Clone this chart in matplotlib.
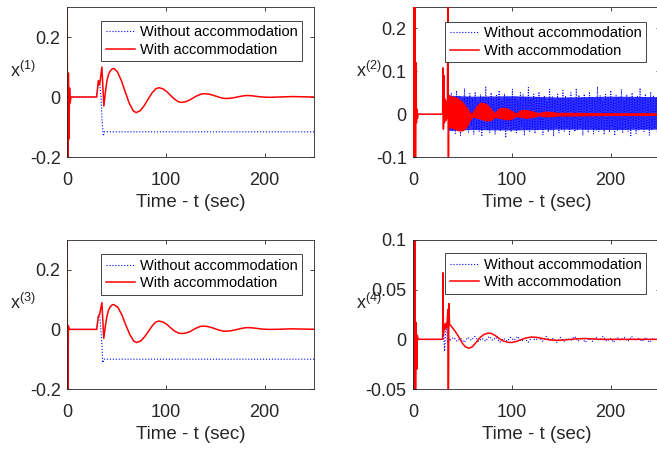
import numpy as np
import matplotlib
matplotlib.use('Agg')
import matplotlib.pyplot as plt
from matplotlib.lines import Line2D

plt.rcParams['font.family'] = ['Liberation Sans', 'DejaVu Sans']
plt.rcParams['mathtext.fontset'] = 'custom'
plt.rcParams['mathtext.rm'] = 'Liberation Sans'
plt.rcParams['mathtext.default'] = 'regular'
plt.rcParams['axes.unicode_minus'] = False

# ---------------- data ----------------
# x(1): with accommodation (red)
t1_red = [0, 0.7, 1.4, 2.0, 2.6, 3.2, 4.0, 30, 31.8, 33, 35.3, 37.3, 39, 40.5, 42, 44, 46, 47.5,
          51, 55, 59, 63, 67, 70, 74, 78, 82, 86, 90, 93, 97, 101, 105, 109, 113, 116,
          120, 124, 128, 132, 136, 139, 143, 147, 151, 155, 158, 161, 165, 169, 173, 177,
          180, 183, 188, 193, 198, 203, 206, 215, 229, 240, 250]
x1_red = [0.45, -0.35, 0.08, -0.14, 0.03, -0.02, 0.0, 0.0, 0.055, 0.04, 0.10, -0.03, 0.02, 0.055, 0.075, 0.088, 0.094, 0.095,
          0.084, 0.055, 0.0165, -0.021, -0.046, -0.052, -0.046, -0.0295, -0.0077, 0.0134, 0.0276, 0.031, 0.0275, 0.0178, 0.0048, -0.0076, -0.016, -0.018,
          -0.0159, -0.0102, -0.0025, 0.0049, 0.0098, 0.011, 0.0098, 0.0067, 0.0025, -0.0017, -0.0043, -0.005, -0.0043, -0.0023, 0.0005, 0.003,
          0.0045, 0.005, 0.0038, 0.0015, 0.0, -0.0008, -0.001, 0.0, 0.0015, 0.0005, 0.0]
# x(1): without accommodation (blue)
t1_blue = [0, 30, 31.8, 33, 34.5, 35.5, 36.8, 37.8, 250]
x1_blue = [0.0, 0.0, 0.055, 0.045, 0.0, -0.08, -0.13, -0.116, -0.116]

# x(3)
t3_red = [0, 0.7, 1.4, 2.2, 30, 31.8, 33, 35.3, 37.2, 39, 40.5, 42, 44, 46, 47.5,
          51.5, 55.5, 59.5, 63.5, 67.5, 70.5, 74.5, 78.5, 82.5, 86.5, 90, 93, 97, 101, 105, 109, 113, 116.5,
          120.5, 124.5, 128.5, 132.5, 135.5, 138, 142, 146, 150, 154, 158, 161, 165, 169, 173, 177, 180, 183,
          188, 193, 198, 205, 215, 228, 240, 250]
x3_red = [0.4, -0.35, 0.012, 0.0, 0.0, 0.045, 0.05, 0.09, -0.03, 0.015, 0.045, 0.065, 0.077, 0.083, 0.083,
          0.074, 0.049, 0.015, -0.017, -0.039, -0.044, -0.039, -0.025, -0.006, 0.013, 0.025, 0.028, 0.025, 0.017, 0.005, -0.006, -0.0125, -0.014,
          -0.012, -0.0075, 0.0005, 0.007, 0.0105, 0.011, 0.0098, 0.0065, 0.002, -0.0025, -0.0055, -0.006, -0.005, -0.0025, 0.0005, 0.0035, 0.0053, 0.006,
          0.005, 0.003, 0.001, 0.0, 0.0005, 0.002, 0.001, 0.0005]
t3_blue = [0, 30, 31.8, 33, 35, 36.2, 37.5, 250]
x3_blue = [0.0, 0.0, 0.045, 0.05, -0.03, -0.112, -0.1, -0.1]

# x(2): red transient, then fast oscillation band (envelope)
t2_red = [0, 0.5, 1.0, 1.5, 2.0, 2.5, 3.0, 3.5, 4.0, 4.5, 5.0, 30, 30.3, 30.8, 31.3, 31.8, 32.5, 33.2, 34, 34.8, 35.5, 35.8, 36.2]
x2_red = [0.4, -0.3, 0.35, -0.25, 0.3, -0.2, 0.12, -0.02, 0.012, -0.01, 0.0, 0.0, 0.108, -0.035, 0.09, -0.02, 0.035, -0.015, 0.03, -0.01, 0.4, -0.4, 0.04]
t2_band = [36, 38, 42, 46, 50, 54, 58, 60, 64, 68, 72, 76, 80, 83, 86, 90, 94, 98, 102, 104,
           108, 112, 116, 120, 124, 127, 131, 135, 139, 143, 147, 150, 160, 175, 200, 225, 250]
x2_upper = [0.045, 0.042, 0.040, 0.036, 0.028, 0.016, 0.002, 0.002, 0.018, 0.027, 0.026, 0.020, 0.008, 0.002, 0.012, 0.015, 0.014, 0.010, 0.004, 0.001,
            0.008, 0.010, 0.009, 0.007, 0.004, 0.002, 0.005, 0.006, 0.005, 0.004, 0.003, 0.003, 0.003, 0.0025, 0.002, 0.002, 0.002]
x2_lower = [-0.03, -0.030, -0.034, -0.038, -0.038, -0.030, -0.012, -0.006, -0.008, -0.010, -0.014, -0.015, -0.012, -0.006, -0.008, -0.010, -0.012, -0.012, -0.008, -0.004,
            -0.006, -0.008, -0.008, -0.007, -0.005, -0.003, -0.004, -0.005, -0.005, -0.004, -0.003, -0.003, -0.003, -0.0025, -0.002, -0.002, -0.002]
# x(2): blue noisy response after the fault (dense core + spiky fringe)
t2_blue_pre = [0, 30, 36]
x2_blue_pre = [0.0, 0.0, 0.0]
t2_core = [36, 60, 100, 150, 200, 250]
x2_core_hi = [0.044, 0.042, 0.043, 0.040, 0.042, 0.041]
x2_core_lo = [-0.038, -0.036, -0.037, -0.035, -0.036, -0.035]
x2_noise = [
    0.045, -0.035, 0.05, -0.04, 0.038, -0.045, 0.055, -0.03, 0.042, -0.05,
    0.035, -0.038, 0.06, -0.033, 0.04, -0.042, 0.048, -0.028, 0.036, -0.047,
    0.052, -0.036, 0.03, -0.04, 0.046, -0.052, 0.04, -0.03, 0.065, -0.038,
    0.038, -0.044, 0.05, -0.032, 0.034, -0.048, 0.044, -0.036, 0.055, -0.04,
    0.03, -0.034, 0.048, -0.055, 0.042, -0.03, 0.036, -0.042, 0.058, -0.035,
    0.04, -0.046, 0.033, -0.038, 0.05, -0.03, 0.045, -0.05, 0.038, -0.036,
    0.062, -0.04, 0.035, -0.033, 0.047, -0.045, 0.04, -0.038, 0.052, -0.03,
    0.036, -0.048, 0.044, -0.035, 0.03, -0.042, 0.058, -0.037, 0.041, -0.052,
    0.034, -0.03, 0.049, -0.044, 0.038, -0.036, 0.055, -0.04, 0.043, -0.033,
    0.037, -0.047, 0.05, -0.035, 0.032, -0.041, 0.06, -0.038, 0.045, -0.03,
    0.039, -0.05, 0.047, -0.036, 0.034, -0.043, 0.052, -0.032, 0.041, -0.046,
    0.036, -0.037, 0.064, -0.04, 0.043, -0.034, 0.03, -0.048, 0.049, -0.036,
    0.038, -0.042, 0.055, -0.03, 0.035, -0.05, 0.044, -0.038, 0.04, -0.035,
    0.058, -0.044, 0.033, -0.036, 0.046, -0.04, 0.039, -0.053, 0.05, -0.032,
    0.036, -0.045, 0.043, -0.037, 0.061, -0.034, 0.04, -0.041, 0.047, -0.036,
    0.034, -0.049, 0.052, -0.038, 0.042, -0.033, 0.037, -0.044, 0.05, -0.035,
]

# x(4)
t4_red = [0, 0.5, 1.0, 1.5, 2.0, 2.5, 3.2, 3.8, 4.4, 5.0, 30, 30.3, 30.8, 31.5, 32.2, 33, 33.8, 34.6, 35.3, 35.8, 36.3, 37,
          39, 42, 46, 50, 53, 56.5, 60, 64, 68, 72, 76, 79, 83, 87, 91, 96, 100, 105, 110, 115, 120, 125,
          130, 138, 146, 155, 165, 175, 190, 210, 230, 250]
x4_red = [0.3, -0.2, 0.25, -0.15, 0.12, -0.08, 0.017, -0.03, 0.004, 0.0, 0.0, 0.067, 0.005, 0.015, 0.01, 0.016, 0.012, 0.018, 0.03, -0.08, 0.036, 0.015,
          0.013, 0.009, 0.003, -0.004, -0.0075, -0.009, -0.0075, -0.003, 0.002, 0.005, 0.0062, 0.006, 0.004, 0.001, -0.0015, -0.003, -0.0032, -0.002, 0.0, 0.0015, 0.0023, 0.002,
          0.001, -0.0005, -0.001, -0.0005, 0.0005, 0.0008, 0.0, 0.0, 0.0, 0.0]
t4_blue_pre = [0, 30, 31, 32, 33, 34, 35, 36, 37.5]
x4_blue_pre = [0.0, 0.0, 0.005, -0.012, 0.008, 0.013, -0.004, 0.003, -0.001]
x4_noise = [
    -0.001, 0.002, -0.002, 0.001, -0.003, 0.002, -0.001, 0.003, -0.002, 0.001,
    -0.002, 0.003, -0.001, 0.002, -0.003, 0.001, -0.002, 0.002, -0.001, 0.003,
    -0.002, 0.001, -0.003, 0.002, -0.001, 0.002, -0.002, 0.003, -0.001, 0.001,
    -0.003, 0.002, -0.002, 0.001, -0.001, 0.003, -0.002, 0.002, -0.003, 0.001,
    -0.002, 0.002, -0.001, 0.003, -0.002, 0.001, -0.003, 0.002, -0.001, 0.002,
    -0.002, 0.003, -0.001, 0.001, -0.002, 0.002, -0.003, 0.001, -0.001, 0.002,
]

xticks = [0, 100, 200]
legend_labels = ['Without accommodation', 'With accommodation']

# ---------------- figure ----------------
W, H = 657, 451
fig = plt.figure(figsize=(W / 100, H / 100), dpi=100)
axw, axh = 247 / W, 150 / H
ax1 = fig.add_axes([67 / W, (H - 157) / H, axw, axh])
ax2 = fig.add_axes([413 / W, (H - 157) / H, axw, axh])
ax3 = fig.add_axes([67 / W, (H - 389) / H, axw, 149 / H])
ax4 = fig.add_axes([413 / W, (H - 389) / H, axw, 149 / H])

dark = '#262626'
blue_kw = dict(color='b', ls=':', lw=0.8)
red_kw = dict(color='r', ls='-', lw=1.1)

# x(1)
ax1.plot(t1_blue, x1_blue, **blue_kw)
ax1.plot(t1_red, x1_red, **red_kw)

# x(2)
t2_noise = np.linspace(36, 250, len(x2_noise))
ax2.plot(t2_blue_pre, x2_blue_pre, **blue_kw)
ax2.fill_between(t2_core, x2_core_lo, x2_core_hi, color='b', alpha=0.8, lw=0, zorder=1.5)
ax2.plot(t2_noise, x2_noise, color='b', ls=':', lw=0.7, zorder=2)
ax2.plot(t2_red, x2_red, **red_kw, zorder=3)
ax2.fill_between(t2_band, x2_lower, x2_upper, color='r', lw=0.8, edgecolor='r', zorder=3)

# x(3)
ax3.plot(t3_blue, x3_blue, **blue_kw)
ax3.plot(t3_red, x3_red, **red_kw)

# x(4)
t4_noise = np.linspace(37.5, 250, len(x4_noise))
ax4.plot(t4_blue_pre, x4_blue_pre, **blue_kw)
ax4.plot(t4_noise, x4_noise, **blue_kw)
ax4.plot(t4_red, x4_red, **red_kw)

setup = [
    (ax1, (-0.2, 0.3), [-0.2, 0, 0.2], ['-0.2', '0', '0.2'], '1', (0.951, 0.907)),
    (ax2, (-0.1, 0.25), [-0.1, 0, 0.1, 0.2], ['-0.1', '0', '0.1', '0.2'], '2', (0.943, 0.902)),
    (ax3, (-0.2, 0.3), [-0.2, 0, 0.2], ['-0.2', '0', '0.2'], '3', (0.951, 0.904)),
    (ax4, (-0.05, 0.1), [-0.05, 0, 0.05, 0.1], ['-0.05', '0', '0.05', '0.1'], '4', (0.943, 0.911)),
]
handles = [Line2D([], [], **blue_kw), Line2D([], [], **red_kw)]

for ax, ylim, yt, ytl, k, anchor in setup:
    ax.set_xlim(0, 250)
    ax.set_ylim(*ylim)
    ax.set_xticks(xticks)
    ax.set_xticklabels([str(v) for v in xticks])
    ax.set_yticks(yt)
    ax.set_yticklabels(ytl)
    ax.tick_params(direction='in', length=3, width=0.6, top=True, right=True,
                   labelsize=13, colors=dark)
    ax.tick_params(axis='x', pad=10.5)
    ax.tick_params(axis='y', pad=4.5)
    for s in ax.spines.values():
        s.set_color(dark)
        s.set_linewidth(0.6)
    ax.set_xlabel('Time - t (sec)', fontsize=13.5, color=dark, labelpad=4)
    ax.set_ylabel('$x^{(%s)}$' % k, fontsize=13, color=dark, rotation=0,
                  ha='right', va='baseline')
    ax.yaxis.set_label_coords(-0.128, 0.535)
    leg = ax.legend(handles, legend_labels, loc='upper right', bbox_to_anchor=anchor,
                    borderaxespad=0, fontsize=10.5, fancybox=False, framealpha=1,
                    edgecolor=dark, borderpad=0.3, labelspacing=0.25,
                    handlelength=2.0, handletextpad=0.35)
    leg.set_zorder(5)
    leg.get_frame().set_linewidth(0.6)
    for txt in leg.get_texts():
        txt.set_color('k')

fig.savefig('out.png', dpi=100)
